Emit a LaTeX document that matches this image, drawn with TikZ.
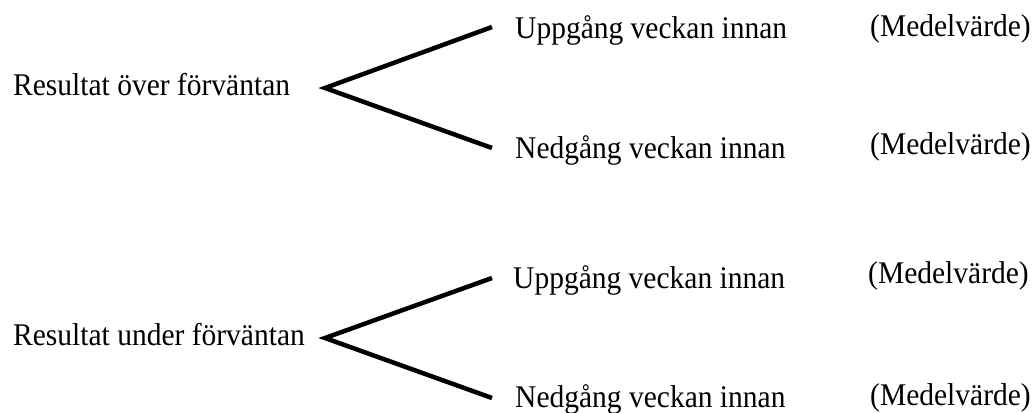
\documentclass[tikz,border=0pt]{standalone}
\usepackage{fontspec}
\setmainfont{Liberation Serif}
\newcommand{\tallbox}[1]{\scalebox{1}[1.07]{#1}}
\begin{document}
\begin{tikzpicture}[x=1pt,y=-1pt,
  lbl/.style={anchor=base west,inner sep=0pt,font=\fontsize{29.5}{34}\selectfont},
  fork/.style={line width=4.5pt,line join=miter}]
\useasboundingbox (0,0) rectangle (1032,412);
% labels
\node[lbl] (r1) at (13,95) {\tallbox{Resultat över förväntan}};
\node[lbl] (u1) at (515,38) {\tallbox{Uppgång veckan innan}};
\node[lbl] (n1) at (515,158) {\tallbox{Nedgång veckan innan}};
\node[lbl] (m1) at (870,37) {\tallbox{(Medelvärde)}};
\node[lbl] (m2) at (870,154) {\tallbox{(Medelvärde)}};
\node[lbl] (r2) at (13,345) {\tallbox{Resultat under förväntan}};
\node[lbl] (u2) at (513,288) {\tallbox{Uppgång veckan innan}};
\node[lbl] (n2) at (515,407) {\tallbox{Nedgång veckan innan}};
\node[lbl] (m3) at (868,283) {\tallbox{(Medelvärde)}};
\node[lbl] (m4) at (870,405) {\tallbox{(Medelvärde)}};
% fork points
\coordinate (a1) at (325,88);
\coordinate (e1u) at (492,27);
\coordinate (e1d) at (492,148);
\coordinate (a2) at (325,338);
\coordinate (e2u) at (492,278);
\coordinate (e2d) at (492,398);
\draw[fork] (e1u) -- (a1) -- (e1d);
\draw[fork] (e2u) -- (a2) -- (e2d);
\end{tikzpicture}
\end{document}
